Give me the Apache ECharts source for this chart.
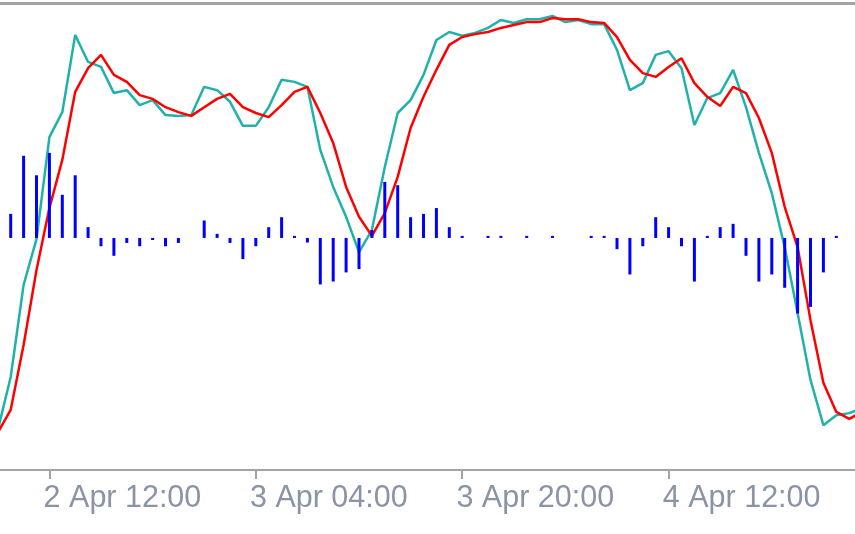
<!DOCTYPE html>
<html lang="en">
<head>
    <meta charset="UTF-8">
    <title>stochastic</title>
    <style>
        html, body { margin: 0; padding: 0; background: #fff; }
    </style>
</head>
<body>
<div id="container" style="width:855px;height:534px"></div>

<script type="text/javascript" src="https://cdn.jsdelivr.net/npm/echarts@6.0.0/dist/echarts.min.js"></script>
<script type="text/javascript">
    // hourly bars, hour 0 = 2 Apr 09:00
    var firstLineHour = -1;   // line arrays start one hour before the first bar
    var mainLine = [0.6, 13.4, 35.6, 46.6, 71.2, 77.2, 95.8, 89.3, 88.1, 81.8, 82.5, 78.9, 80.1, 76.5, 76.3, 76.5,
        83.3, 82.5, 79.7, 73.9, 73.9, 78.4, 85.0, 84.5, 83.3, 68.1, 59.2, 52.0, 43.5, 48.8, 64.0, 77.0, 80.1, 86.2,
        94.6, 96.5, 95.6, 96.3, 97.5, 99.4, 98.7, 99.6, 99.6, 100.4, 98.9, 99.4, 98.4, 98.4, 92.2, 82.5, 84.2, 91.0,
        91.9, 87.8, 74.1, 80.6, 81.8, 87.4, 78.4, 67.4, 57.7, 44.7, 28.8, 12.7, 1.8, 4.2, 4.7, 5.9];
    var signalLine = [0.0, 5.5, 21.1, 39.2, 54.1, 65.7, 82.1, 87.8, 91.0, 86.2, 84.5, 81.3, 80.4, 78.4, 77.2, 76.3,
        78.4, 80.4, 81.6, 78.4, 77.0, 76.0, 78.9, 82.1, 83.3, 77.0, 69.8, 59.2, 52.0, 47.4, 52.9, 61.6, 73.4, 80.9,
        87.4, 93.4, 95.3, 96.0, 96.5, 97.5, 98.2, 98.9, 98.9, 99.9, 99.6, 99.6, 98.9, 98.7, 95.3, 89.8, 86.6, 85.7,
        88.1, 90.2, 84.2, 80.9, 78.7, 83.3, 81.8, 75.8, 67.4, 54.4, 44.7, 27.1, 12.0, 5.0, 3.3, 5.0];
    var histogram = [5.8, 19.8, 15.1, 20.5, 10.4, 15.1, 2.6, -2.0, -4.3, -1.2, -2.0, -0.5, -2.0, -1.2, 0, 4.2,
        1.0, -1.2, -5.1, -2.0, 2.6, 5.0, 0.5, -1.1, -11.2, -10.5, -8.3, -7.5, 1.9, 13.5, 12.7, 5.0, 5.8, 7.2, 2.6,
        0.5, 0, 0.5, 0.5, 0, 0.5, 0, 0.5, 0, 0, 0.5, 0.5, -2.7, -8.8, -2.0, 5.0, 2.6, -2.0, -10.5, 0.5, 2.6, 3.4,
        -4.3, -10.5, -8.8, -12.0, -18.2, -16.6, -8.3, 0.5, 0];
    var tickHours = [3, 19, 35, 51];
    var tickLabels = ['2 Apr 12:00', '3 Apr 04:00', '3 Apr 20:00', '4 Apr 12:00'];

    var mainColor = '#20b2aa';
    var signalColor = '#ff0000';
    var histColor = '#0000ff';
    var axisColor = '#a3a3a3';
    var labelColor = '#8994a6';
    var labelShift = 0.45; // labels start a little left of their tick

    var dom = document.getElementById("container");
    var myChart = echarts.init(dom);
    myChart.setOption(buildOption(), true);

    function toPoints(arr, start) {
        return arr.map(function (v, i) {
            return [start + i, v];
        });
    }

    function buildOption() {
        return {
            animation: false,
            backgroundColor: '#fff',
            grid: {
                left: 0,
                right: 0,
                top: 3,
                bottom: 64
            },
            xAxis: [{
                type: 'value',
                min: -0.83,
                max: 65.45,
                position: 'bottom',
                splitLine: {show: false},
                axisLine: {
                    show: true,
                    onZero: false,
                    lineStyle: {color: axisColor, width: 2}
                },
                axisTick: {
                    show: true,
                    length: 9,
                    customValues: tickHours,
                    lineStyle: {color: axisColor, width: 2}
                },
                axisLabel: {
                    show: true,
                    customValues: tickHours.map(function (h) {
                        return h - labelShift;
                    }),
                    align: 'left',
                    margin: 13,
                    color: labelColor,
                    fontFamily: 'Liberation Sans',
                    fontSize: 30.5,
                    formatter: function (val) {
                        var idx = tickHours.indexOf(Math.round(val + labelShift));
                        return idx >= 0 ? tickLabels[idx] : '';
                    }
                }
            }, {
                type: 'value',
                min: -0.83,
                max: 65.45,
                position: 'top',
                splitLine: {show: false},
                axisTick: {show: false},
                axisLabel: {show: false},
                axisLine: {
                    show: true,
                    onZero: false,
                    lineStyle: {color: axisColor, width: 3}
                }
            }],
            yAxis: [{
                type: 'value',
                min: -9,
                max: 103.5,
                show: false
            }, {
                type: 'value',
                min: -55.9,
                max: 56.6,
                show: false
            }],
            series: [{
                type: 'line',
                name: 'main',
                data: toPoints(mainLine, firstLineHour),
                showSymbol: false,
                lineStyle: {color: mainColor, width: 2.5},
                itemStyle: {color: mainColor},
                z: 2
            }, {
                type: 'line',
                name: 'signal',
                data: toPoints(signalLine, firstLineHour),
                showSymbol: false,
                lineStyle: {color: signalColor, width: 2.5},
                itemStyle: {color: signalColor},
                z: 3
            }, {
                type: 'bar',
                name: 'hist',
                yAxisIndex: 1,
                data: toPoints(histogram, 0),
                barWidth: 3,
                itemStyle: {color: histColor},
                z: 4
            }]
        };
    }
</script>
</body>
</html>
